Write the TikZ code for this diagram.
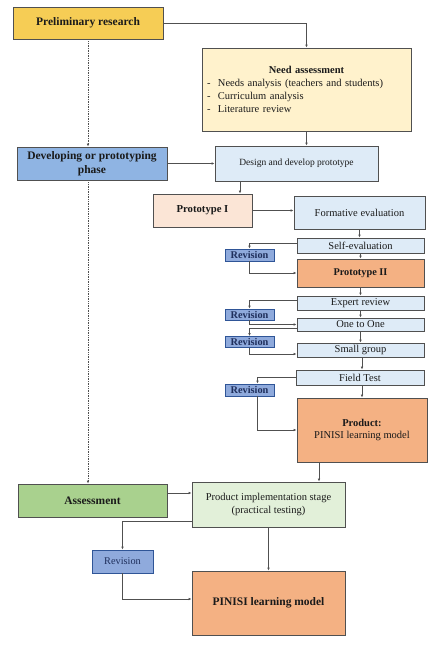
\documentclass[tikz,border=0pt]{standalone}
\usepackage{fontspec}
\setmainfont{Liberation Serif}
\usetikzlibrary{arrows.meta}
\definecolor{cgold}{HTML}{F6CD55}
\definecolor{cneed}{HTML}{FFF2CC}
\definecolor{cdev}{HTML}{8FB4E3}
\definecolor{clblue}{HTML}{DEEBF7}
\definecolor{cpeach}{HTML}{FBE5D6}
\definecolor{corange}{HTML}{F4B183}
\definecolor{crev}{HTML}{8FAADC}
\definecolor{crevb}{HTML}{2F5597}
\definecolor{cgreen}{HTML}{A9D18E}
\definecolor{clgreen}{HTML}{E2F0D9}
\definecolor{cline}{HTML}{505050}
\definecolor{cnavy}{HTML}{1F2F5C}
\definecolor{ctext}{HTML}{1A1A1A}
\tikzset{
  box/.style={draw=cline, line width=0.8pt, inner sep=1pt, align=center, text=ctext,
    font=\fontsize{10.5}{12.5}\selectfont},
  bigbox/.style={box, font=\bfseries\fontsize{11.5}{13.5}\selectfont},
  revbox/.style={draw=crevb, line width=0.8pt, fill=crev, inner sep=0pt, text=cnavy,
    minimum width=49pt, font=\bfseries\fontsize{10.3}{12}\selectfont},
  arr/.style={draw=cline, line width=0.7pt, -{Latex[length=3pt,width=2.6pt]}},
  dots/.style={draw=cline, line width=0.7pt, densely dotted, -{Latex[length=3pt,width=2.6pt]}}
}
\begin{document}
\begin{tikzpicture}[x=1pt,y=1pt]
\useasboundingbox (0,0) rectangle (432,-648);
% nodes
\node[bigbox, fill=cgold, minimum width=150pt, minimum height=32pt] (prelim) at (88,-23) {Preliminary research};
\node[box, fill=cneed, minimum width=209pt, minimum height=83pt, text width=199pt, align=left,
  font=\fontsize{10.5}{13}\selectfont] (need) at (306.5,-89.5)
  {\makebox[199pt]{\bfseries Need assessment}\\
   \makebox[11pt][l]{-}Needs analysis (teachers and students)\\
   \makebox[11pt][l]{-}Curriculum analysis\\
   \makebox[11pt][l]{-}Literature review};
\node[bigbox, fill=cdev, minimum width=150pt, minimum height=33pt] (dev) at (92,-163.5) {Developing or prototyping\\phase};
\node[box, fill=clblue, minimum width=163pt, minimum height=35pt, font=\fontsize{9.5}{11}\selectfont] (design) at (296.5,-163.5) {Design and develop prototype};
\node[box, fill=cpeach, minimum width=99pt, minimum height=33pt, font=\bfseries\fontsize{10.7}{12}\selectfont] (proto1) at (202.5,-210.5) {Prototype I};
\node[box, fill=clblue, minimum width=131pt, minimum height=33pt] (form) at (359.5,-212.5) {Formative evaluation};
\node[box, fill=clblue, minimum width=127pt, minimum height=15pt] (self) at (360.5,-245.5) {Self-evaluation};
\node[revbox, minimum height=12pt] (rev1) at (249.5,-255) {Revision};
\node[box, fill=corange, minimum width=127pt, minimum height=28pt, font=\bfseries\fontsize{10.3}{12}\selectfont] (proto2) at (360.5,-273) {Prototype II};
\node[box, fill=clblue, minimum width=127pt, minimum height=14pt] (expert) at (360.5,-303) {Expert review};
\node[revbox, minimum height=11pt] (rev2) at (249.5,-314.5) {Revision};
\node[box, fill=clblue, minimum width=127pt, minimum height=13pt] (one) at (360.5,-324.5) {One to One};
\node[revbox, minimum height=11pt] (rev3) at (249.5,-342) {Revision};
\node[box, fill=clblue, minimum width=127pt, minimum height=14pt] (small) at (360.5,-350) {Small group};
\node[box, fill=clblue, minimum width=128pt, minimum height=15pt] (field) at (360,-377.5) {Field Test};
\node[revbox, minimum height=12pt] (rev4) at (249.5,-390) {Revision};
\node[box, fill=corange, minimum width=130pt, minimum height=64pt] (product) at (362,-430) {\textbf{Product:}\\PINISI learning model};
\node[bigbox, fill=cgreen, minimum width=149pt, minimum height=33pt] (assess) at (92.5,-500.5) {Assessment};
\node[box, fill=clgreen, minimum width=153pt, minimum height=45pt] (impl) at (268.5,-504.5) {Product implementation stage\\(practical testing)};
\node[box, draw=crevb, fill=crev, text=cnavy, minimum width=61pt, minimum height=23pt, font=\fontsize{10.3}{12}\selectfont] (rev5) at (122.5,-561.5) {Revision};
\node[bigbox, fill=corange, minimum width=153pt, minimum height=64pt] (pinisi) at (268.5,-603) {PINISI learning model};
% connectors
\draw[arr] (prelim.east) -| (need.north);
\draw[arr] (need.south) -- (need.south |- design.north);
\draw[arr] (dev.east) -- (design.west);
\draw[arr] ([xshift=37.5]proto1.north |- design.south) -- ([xshift=37.5]proto1.north);
\draw[arr] (proto1.east) -- (proto1.east -| form.west);
\draw[arr] (form.south) -- (form.south |- self.north);
\draw[arr] ([yshift=2]self.west) -| (rev1.north);
\draw[arr] (rev1.south) |- (proto2.west);
\draw[arr] (self.south) -- (proto2.north);
\draw[arr] (proto2.south) -- (expert.north);
\draw[arr] ([yshift=3]expert.west) -| (rev2.north);
\draw[arr] (rev2.south) |- (one.west);
\draw[arr] (expert.south) -- (one.north);
\draw[arr] ([yshift=-4]one.west) -| (rev3.north);
\draw[arr] (rev3.south) |- ([yshift=-4]small.west);
\draw[arr] (one.south) -- (small.north);
\draw[arr] ([xshift=1.5]small.south) -- ([xshift=2]field.north);
\draw[arr] (field.west) -| ([xshift=8]rev4.north);
\draw[arr] ([xshift=8]rev4.south) |- (product.west);
\draw[arr] ([xshift=2]field.south) -- ([xshift=2]field.south |- product.north);
\draw[arr] ([xshift=-43]product.south) -- ([xshift=-43]product.south |- impl.north);
\draw[arr] ([yshift=7.5]assess.east) -- ([yshift=7.5]assess.east -| impl.west);
\draw[arr] ([yshift=-16.5]impl.west) -| (rev5.north);
\draw[arr] (rev5.south) |- ([yshift=4]pinisi.west);
\draw[arr] (impl.south) -- (pinisi.north);
\draw[dots] (prelim.south) -- (prelim.south |- dev.north);
\draw[dots] (prelim.south |- dev.south) -- (prelim.south |- assess.north);
\end{tikzpicture}
\end{document}
